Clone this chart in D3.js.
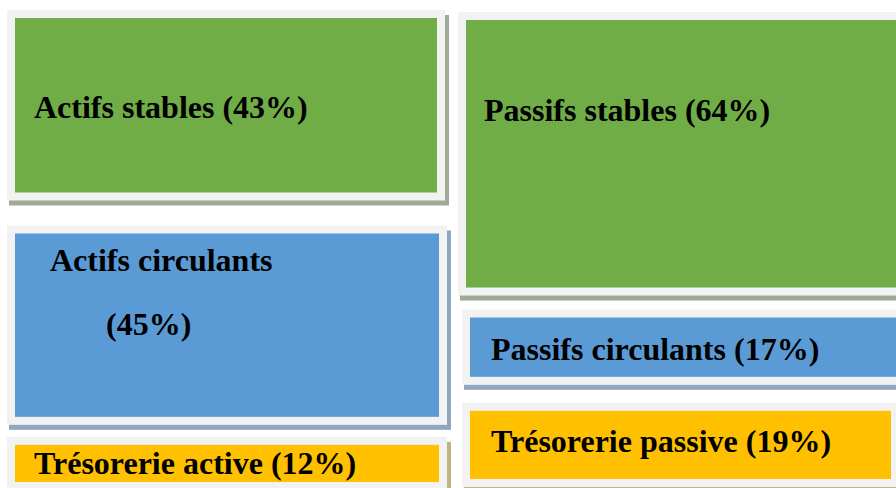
<!DOCTYPE html>
<html>
<head>
<meta charset="utf-8">
<script src="https://cdn.jsdelivr.net/npm/d3@7"></script>
<style>
  html, body { margin: 0; padding: 0; background: #ffffff; }
  svg { display: block; }
</style>
</head>
<body>
<svg id="chart" width="896" height="488"></svg>
<script>
// Balance sheet structure: assets (actif) on the left, liabilities (passif) on the right
const sides = ["Actif", "Passif"];
const actifLabels = ["Actifs stables", "Actifs circulants", "Trésorerie active"];
const actifValues = [43, 45, 12];
const passifLabels = ["Passifs stables", "Passifs circulants", "Trésorerie passive"];
const passifValues = [64, 17, 19];

// Styling
const fillColors = ["#70ad47", "#5b9bd5", "#ffc000"];
const shadowColors = ["#9eaa94", "#8fa6c1", "#c2b283"];
const frameColor = "#f2f2f2";
const pad = 8;

// Layout of each column
const layout = {
  Actif: {
    top: 10, gaps: [25, 12],
    nudge: [[0, -2], [0, 0], [0, 0]],
    labels: [
      [{ dx: 27, dy: 108 }],
      [{ dx: 43, dy: 46 }, { dx: 99, dy: 110 }],
      [{ dx: 27, dy: 37 }]
    ]
  },
  Passif: {
    top: 12, gaps: [14, 18],
    nudge: [[-2, 10], [2, 10], [2, -1]],
    labels: [
      [{ dx: 26, dy: 109 }],
      [{ dx: 29, dy: 50 }],
      [{ dx: 29, dy: 49 }]
    ]
  }
};

const svg = d3.select("#chart");

const x = d3.scaleBand().domain(sides).range([7, 900]).paddingInner(13 / 453).paddingOuter(0);
const h = d3.scaleLinear().domain([0, 100]).range([0, 443]);

function buildColumn(side, labels, values) {
  const L = layout[side];
  let y = L.top;
  return values.map((v, i) => {
    const [n0, n1] = L.nudge[i];
    const box = {
      side, i, value: v, label: labels[i],
      x: x(side) + n0,
      w: x.bandwidth() - n0 + n1,
      y: y,
      h: h(v),
      lines: L.labels[i].length > 1 ? [labels[i], `(${v}%)`] : [`${labels[i]} (${v}%)`],
      pos: L.labels[i]
    };
    y += h(v) + (L.gaps[i] || 0);
    return box;
  });
}

const boxes = buildColumn("Actif", actifLabels, actifValues)
  .concat(buildColumn("Passif", passifLabels, passifValues));

const g = svg.selectAll("g.box").data(boxes).join("g").attr("class", "box");

// drop shadow
g.append("rect")
  .attr("x", d => d.x + 2)
  .attr("y", d => d.y + 5)
  .attr("width", d => d.w + 2)
  .attr("height", d => d.h)
  .attr("fill", d => shadowColors[d.i]);

// light frame
g.append("rect")
  .attr("x", d => d.x)
  .attr("y", d => d.y)
  .attr("width", d => d.w)
  .attr("height", d => d.h)
  .attr("fill", frameColor);

// coloured block
g.append("rect")
  .attr("x", d => d.x + pad)
  .attr("y", d => d.y + pad)
  .attr("width", d => d.w - 2 * pad)
  .attr("height", d => d.h - 2 * pad)
  .attr("fill", d => fillColors[d.i]);

// labels
g.each(function (d) {
  const sel = d3.select(this);
  d.lines.forEach((line, k) => {
    sel.append("text")
      .attr("x", d.x + d.pos[k].dx)
      .attr("y", d.y + d.pos[k].dy)
      .attr("font-family", "'Liberation Serif', 'Times New Roman', serif")
      .attr("font-weight", "bold")
      .attr("font-size", 32)
      .attr("fill", "#000")
      .text(line);
  });
});
</script>
</body>
</html>
